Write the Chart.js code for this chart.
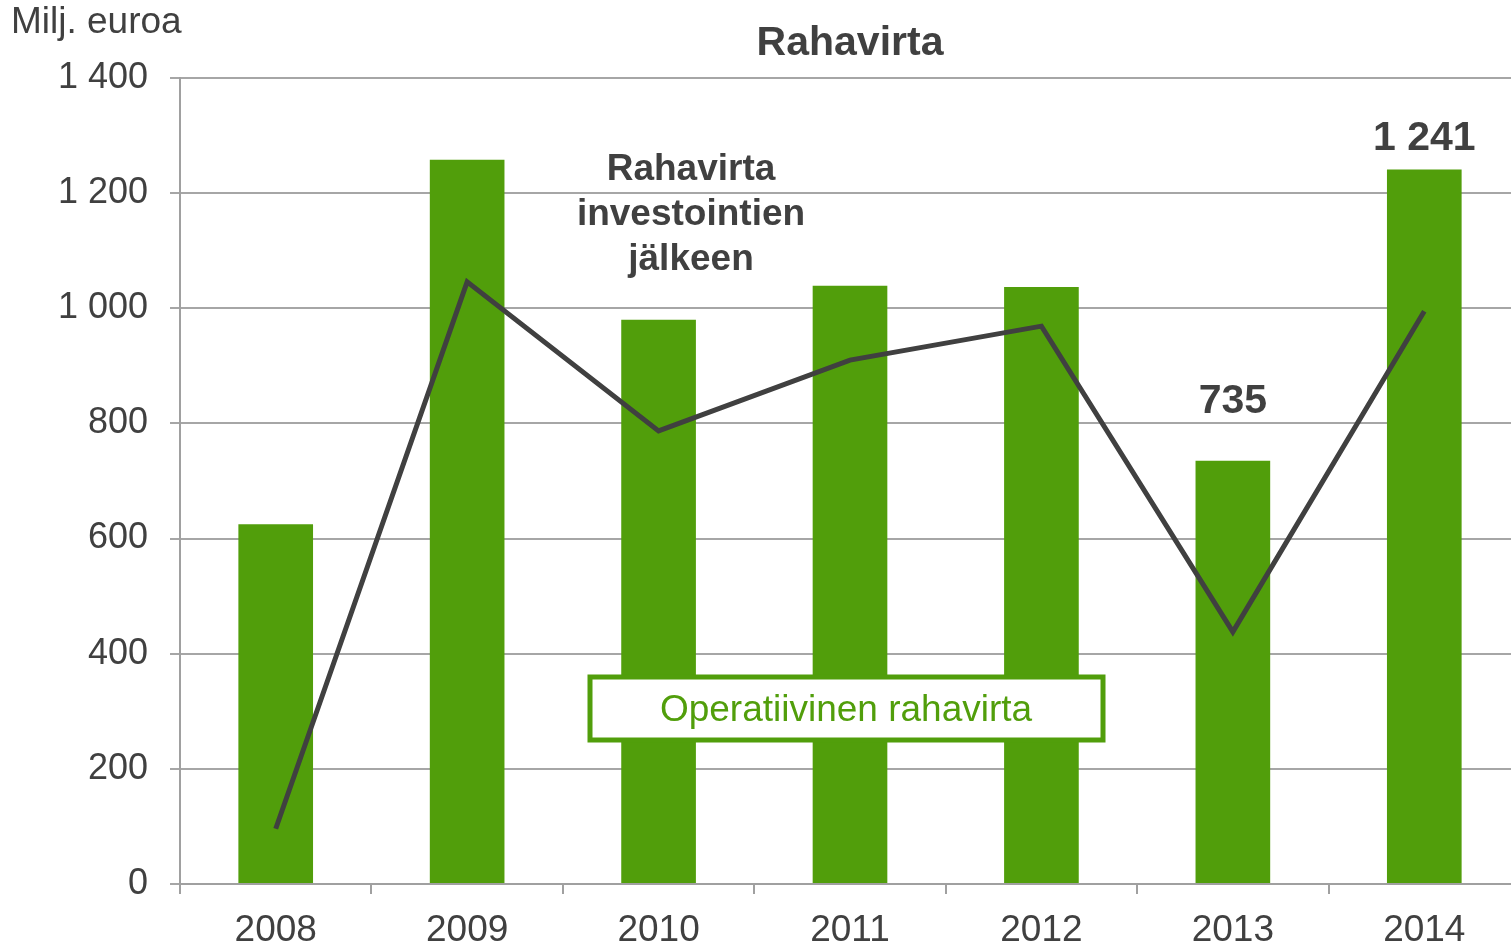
<!DOCTYPE html>
<html>
<head>
<meta charset="utf-8">
<script src="https://cdn.jsdelivr.net/npm/chart.js@4"></script>
<style>
  html, body { margin: 0; padding: 0; background: #fff; overflow: hidden; }
  #wrap { width: 1511px; height: 946px; overflow: hidden; }
</style>
</head>
<body>
<div id="wrap"><canvas id="myChart" width="1520" height="946"></canvas></div>
<script>
// data
const years       = ['2008', '2009', '2010', '2011', '2012', '2013', '2014'];
const operatiivinen = [625, 1258, 980, 1039, 1037, 735, 1241];
const investJalkeen = [96, 1046, 787, 910, 969, 438, 995];
const yTicks      = [0, 200, 400, 600, 800, 1000, 1200, 1400];
const shownLabels = { 5: '735', 6: '1 241' };   // only these bars have a number on top

const green = '#519e0b';
const dark  = '#404040';
const font  = '"Liberation Sans", Arial, sans-serif';

function fmt(v) {
    // 1400 -> "1 400"
    return String(v).replace(/\B(?=(\d{3})+(?!\d))/g, ' ');
}

/* textes en plus : titre, unité, étiquettes, "légende" encadrée */
const extras = {
    id: 'extras',
    afterDatasetsDraw(chart) {
        const c = chart.ctx;
        const x = chart.scales.x, y = chart.scales.y;
        c.save();
        c.textAlign = 'center';
        c.textBaseline = 'middle';

        c.fillStyle = dark;
        c.font = 'bold 41px ' + font;
        c.fillText('Rahavirta', 850, 44);

        c.textAlign = 'left';
        c.font = '37px ' + font;
        c.fillText('Milj. euroa', 11, 23);

        c.textAlign = 'center';
        c.font = 'bold 41px ' + font;
        Object.keys(shownLabels).forEach(i => {
            const px = x.getPixelForValue(Number(i));
            const off = i == 5 ? 59 : 31;
            c.fillText(shownLabels[i], px, y.getPixelForValue(operatiivinen[i]) - off);
        });

        // label of the line
        c.font = 'bold 37px ' + font;
        ['Rahavirta', 'investointien', 'jälkeen'].forEach((t, k) => {
            c.fillText(t, 691, 170 + k * 45);
        });

        // boxed label for the bars
        const bx = 590, by = 677, bw = 513, bh = 63;
        c.fillStyle = '#fff';
        c.fillRect(bx, by, bw, bh);
        c.strokeStyle = green;
        c.lineWidth = 5;
        c.strokeRect(bx, by, bw, bh);
        c.fillStyle = green;
        c.font = '37px ' + font;
        c.fillText('Operatiivinen rahavirta', 846, by + bh / 2 + 2);
        c.restore();
    }
};

let ctx = document.getElementById('myChart').getContext('2d');
let myChart = new Chart(ctx, {
    type: 'bar',
    data: {
        labels: years,
        datasets: [{
            type: 'line',
            label: 'Rahavirta investointien jälkeen',
            data: investJalkeen,
            borderColor: dark,
            borderWidth: 5,
            pointRadius: 0,
            tension: 0,
            fill: false,
            order: 0
        }, {
            label: 'Operatiivinen rahavirta',
            data: operatiivinen,
            backgroundColor: green,
            borderWidth: 0,
            barPercentage: 1,
            categoryPercentage: 0.39,
            order: 1
        }]
    },
    options: {
        responsive: false,
        animation: false,
        layout: { padding: { top: 78, right: 0, bottom: 0, left: 0 } },
        plugins: {
            legend: { display: false },
            tooltip: { enabled: false },
            title: { display: false }
        },
        scales: {
            x: {
                grid: {
                    drawOnChartArea: false,
                    drawTicks: true,
                    tickLength: 10,
                    color: '#a0a0a0',
                    lineWidth: 2
                },
                border: { color: '#a0a0a0', width: 2 },
                ticks: {
                    color: dark,
                    font: { family: font, size: 37 },
                    padding: 15,
                    maxRotation: 0
                },
                afterFit(scale) { scale.height = 62; }
            },
            y: {
                min: 0,
                max: 1400,
                afterBuildTicks(scale) { scale.ticks = yTicks.map(v => ({ value: v })); },
                grid: {
                    color: '#a6a6a6',
                    lineWidth: 2,
                    tickLength: 10
                },
                border: { color: '#a0a0a0', width: 2 },
                ticks: {
                    color: dark,
                    font: { family: font, size: 36, lineHeight: 1.3 },
                    padding: 22,
                    callback: v => fmt(v)
                },
                afterFit(scale) { scale.width = 180; }
            }
        }
    },
    plugins: [extras]
});
</script>
</body>
</html>
